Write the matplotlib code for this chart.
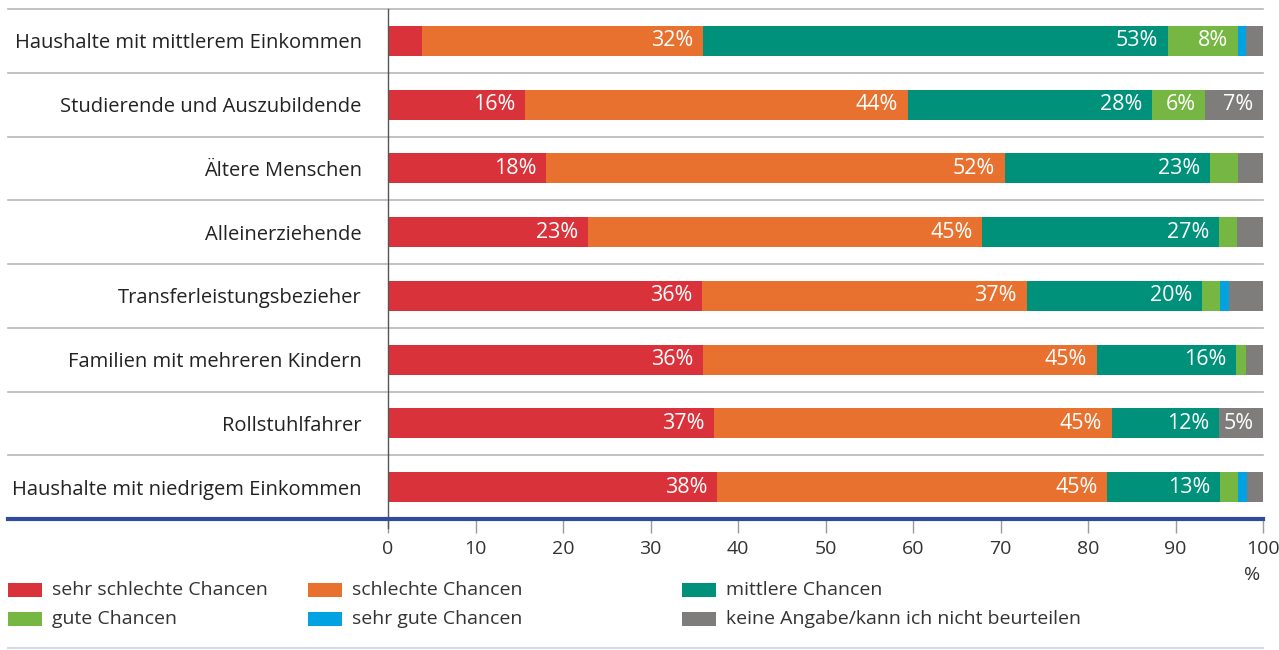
import matplotlib
matplotlib.use("Agg")
import matplotlib.pyplot as plt
import numpy as np
from matplotlib.patches import Rectangle
from matplotlib.lines import Line2D

plt.rcParams['font.family'] = ['Open Sans', 'DejaVu Sans']

categories = [
    "Haushalte mit mittlerem Einkommen",
    "Studierende und Auszubildende",
    "Ältere Menschen",
    "Alleinerziehende",
    "Transferleistungsbezieher",
    "Familien mit mehreren Kindern",
    "Rollstuhlfahrer",
    "Haushalte mit niedrigem Einkommen",
]

# shares in percent
sehr_schlecht = [3.9, 15.7, 18.1, 22.9, 35.9, 36.0, 37.3, 37.6]
schlecht = [32.1, 43.7, 52.4, 45.0, 37.1, 45.0, 45.4, 44.6]
mittel = [53.1, 27.9, 23.4, 27.1, 20.0, 15.9, 12.3, 12.9]
gut = [8.0, 6.1, 3.2, 2.0, 2.1, 1.2, 0.0, 2.0]
sehr_gut = [0.9, 0.0, 0.0, 0.0, 1.0, 0.0, 0.0, 1.1]
keine = [2.0, 6.6, 2.9, 3.0, 3.9, 1.9, 5.0, 1.8]

names = ["sehr schlechte Chancen", "schlechte Chancen", "mittlere Chancen",
         "gute Chancen", "sehr gute Chancen", "keine Angabe/kann ich nicht beurteilen"]
colors = ["#d9323b", "#e8712f", "#00917b", "#76b743", "#00a2e1", "#7e7d7b"]
series = [sehr_schlecht, schlecht, mittel, gut, sehr_gut, keine]

W, H = 1279, 650
fig = plt.figure(figsize=(W / 100, H / 100), dpi=100)
ax = fig.add_axes([388 / W, 1 - 519 / H, 875 / W, 510 / H])

y = np.arange(len(categories))
left = np.zeros(len(categories))
for vals, col, name in zip(series, colors, names):
    vals = np.array(vals)
    ax.barh(y, vals, left=left, height=0.47, color=col, label=name, zorder=2)
    for yi, v, l in zip(y, vals, left):
        if v >= 4.5:
            ax.annotate(f"{round(v)}%", xy=(l + v, yi), xytext=(-7, 0),
                        textcoords="offset points", ha="right", va="center",
                        color="white", fontsize=15.5, zorder=3)
    left += vals

ax.set_xlim(0, 100)
ax.set_ylim(7.5, -0.5)
for s in ax.spines.values():
    s.set_visible(False)

ax.set_yticks(y, categories)
ax.tick_params(axis="y", length=0, pad=19, labelsize=14.5, labelcolor="#222222")
ax.set_xticks(range(0, 101, 10))
ax.tick_params(axis="x", length=10, width=1, color="#9a9a9a", pad=5,
               labelsize=14, labelcolor="#333333")

# row separators reaching into the label area
for b in np.arange(-0.5, 7, 1):
    ax.axhline(b, xmin=-0.434, xmax=1, color="#b8b8b8", lw=1.2, clip_on=False, zorder=1)
ax.axvline(0, ymin=-0.018, ymax=1, color="#555555", lw=1, clip_on=False, zorder=4)
ax.axhline(7.5, xmin=-0.434, xmax=1, color="#2f4b9b", lw=3, clip_on=False, zorder=5)

ax.annotate("%", xy=(100, 0), xycoords=("data", "axes fraction"), xytext=(-8, -40),
            textcoords="offset points", ha="center", va="center",
            fontsize=14, color="#333333")

# legend, three columns at fixed places
leg_x = [8, 308, 682]
leg_y = [590, 619]
order = [[0, 3], [1, 4], [2, 5]]
for cx, idx in zip(leg_x, order):
    for ry, i in zip(leg_y, idx):
        fig.add_artist(Rectangle((cx / W, 1 - (ry + 7) / H), 34 / W, 14 / H,
                                 transform=fig.transFigure, color=colors[i], lw=0))
        fig.text((cx + 44) / W, 1 - ry / H, names[i], ha="left", va="center",
                 fontsize=14, color="#333333")

fig.add_artist(Line2D([8 / W, 1263 / W], [1 - 648 / H, 1 - 648 / H],
                      transform=fig.transFigure, color="#d3dce6", lw=1.5))

fig.savefig("out.png", dpi=100)
